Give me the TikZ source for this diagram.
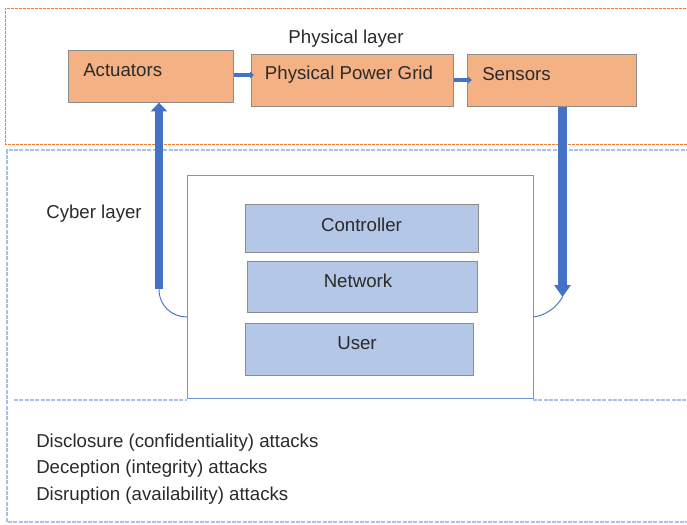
\documentclass[tikz,border=0pt]{standalone}
\usepackage{fontspec}
\setmainfont{Liberation Sans}
\usetikzlibrary{arrows.meta,calc,shadows}
\definecolor{orfill}{HTML}{F4B183}
\definecolor{bluefill}{HTML}{B4C7E7}
\definecolor{arrblue}{HTML}{4472C4}
\definecolor{ordash}{HTML}{ED7D31}
\definecolor{bldash}{HTML}{A9C0E8}
\definecolor{txt}{HTML}{2A2A2A}
\tikzset{
  obox/.style={draw=black!45, fill=orfill, line width=0.5pt, anchor=north west, inner sep=0pt,
    drop shadow={shadow xshift=0.6pt, shadow yshift=-0.6pt, opacity=0.3, fill=black!70}},
  bbox/.style={draw=black!45, fill=bluefill, line width=0.5pt, anchor=north west, inner sep=0pt,
    drop shadow={shadow xshift=0.6pt, shadow yshift=-0.6pt, opacity=0.3, fill=black!70}},
  lbl/.style={text=txt, inner sep=0pt, anchor=base},
  bigup/.style={draw=arrblue, line width=6pt, -{Triangle[width=12pt,length=6.5pt]}},
  bigdown/.style={draw=arrblue, line width=6.5pt, -{Triangle[width=12pt,length=9pt]}},
  smallarr/.style={draw=arrblue, line width=3pt, -{Triangle[width=5pt,length=3pt]}},
  curve/.style={draw=arrblue, line width=0.7pt},
  phys/.style={draw=ordash, dash pattern=on 2pt off 1pt, line width=0.7pt},
  cyb/.style={draw=bldash, dash pattern=on 3pt off 1pt, line width=0.8pt},
}
\begin{document}
\begin{tikzpicture}[x=0.75pt,y=-0.75pt, font=\fontsize{14}{16}\selectfont]
\useasboundingbox (0,0) rectangle (687,525);
% layers
\draw[phys] (690,8) -- (5,8) -- (5,144) -- (690,144);
\draw[cyb] (690,150) -- (7,150) -- (7,522) -- (690,522);
\node[lbl] (physT) at (346,43) {Physical layer};
\node[lbl] (cybT) at (94,218) {Cyber layer};
% physical boxes
\node[obox, minimum width=123.75pt, minimum height=39pt] (act) at (68,50) {};
\node[obox, minimum width=151.5pt, minimum height=39pt] (ppg) at (251,54) {};
\node[obox, minimum width=126.75pt, minimum height=39pt] (sen) at (467,54) {};
\node[lbl, anchor=base west] (actT) at (83,76) {Actuators};
\node[lbl] (ppgT) at (349,79) {Physical Power Grid};
\node[lbl, anchor=base west] (senT) at (482,80) {Sensors};
% inner cyber box
\coordinate (ibL) at (187,317);
\coordinate (ibR) at (533,317);
\draw[cyb] (14,400) -- (187,400);
\draw[cyb] (533,400) -- (690,400);
\node[draw=arrblue!75, line width=0.6pt, anchor=north west, minimum width=259.5pt, minimum height=167.25pt, fill=white] (inner) at (187,175) {};
\node[bbox, minimum width=174.75pt, minimum height=36pt] (ctrl) at (245,204) {};
\node[bbox, minimum width=172.5pt, minimum height=38.25pt] (net) at (247,261) {};
\node[bbox, minimum width=171pt, minimum height=39pt] (user) at (245,323) {};
\node[lbl] (ctrlT) at (361.5,231) {Controller};
\node[lbl] (netT) at (358,287) {Network};
\node[lbl] (userT) at (357,349) {User};
% arrows
\draw[smallarr] (act.east |- 0,75) -- ($(ppg.west |- 0,75)+(3,0)$);
\draw[smallarr] (ppg.east |- 0,80) -- ($(sen.west |- 0,80)+(5,0)$);
\coordinate (upS) at (159,289);
\coordinate (dnE) at (562.5,297);
\draw[bigup] (upS) -- (act.south -| upS);
\draw[bigdown] (sen.south -| dnE) -- (dnE);
\draw[curve] (upS) .. controls (159,306) and (172,317) .. (inner.west |- ibL);
\draw[curve] (dnE) .. controls (556,308) and (546,315) .. (inner.east |- ibR);
% attacks
\node[lbl, anchor=base west] (a1) at (36,447) {Disclosure (confidentiality) attacks};
\node[lbl, anchor=base west] (a2) at (36,473.5) {Deception (integrity) attacks};
\node[lbl, anchor=base west] (a3) at (36,500) {Disruption (availability) attacks};
\end{tikzpicture}
\end{document}
